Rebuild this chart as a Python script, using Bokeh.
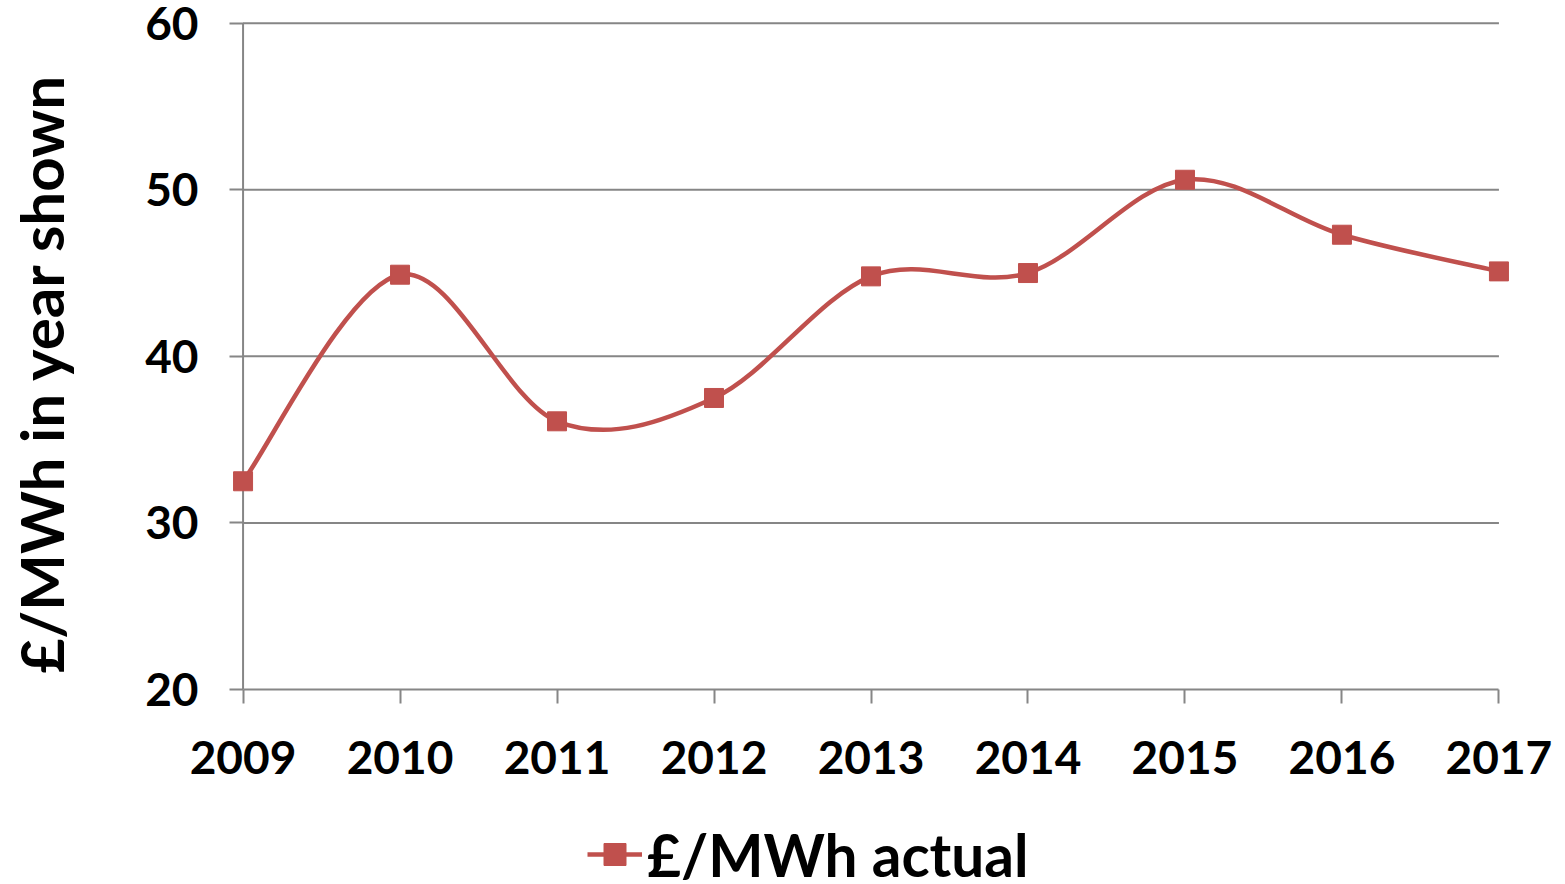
import numpy as np
from bokeh.plotting import figure
from bokeh.layouts import column, row
from bokeh.models import Range1d, FixedTicker, Legend, LegendItem, Label, ColumnDataSource
from bokeh.embed import file_html
from bokeh.resources import INLINE

# ---- data ----
years = [2009, 2010, 2011, 2012, 2013, 2014, 2015, 2016, 2017]
values = [32.5, 44.9, 36.1, 37.5, 44.8, 45.0, 50.6, 47.3, 45.1]
y_ticks = [20, 30, 40, 50, 60]
series_name = "£/MWh actual"
y_title = "£/MWh in year shown"

RED = "#C0504D"
GREY = "#868686"
FONT = "Lato"

# ---- smoothed curve (Excel-like Catmull-Rom Bezier control points) ----
xs = np.array(years, dtype=float)
ys = np.array(values, dtype=float)
n = len(xs)
seg = {k: [] for k in ["x0", "y0", "x1", "y1", "cx0", "cy0", "cx1", "cy1"]}
for i in range(n - 1):
    i0 = max(i - 1, 0)
    i3 = min(i + 2, n - 1)
    seg["x0"].append(xs[i]); seg["y0"].append(ys[i])
    seg["x1"].append(xs[i + 1]); seg["y1"].append(ys[i + 1])
    seg["cx0"].append(xs[i] + (xs[i + 1] - xs[i0]) / 6)
    seg["cy0"].append(ys[i] + (ys[i + 1] - ys[i0]) / 6)
    seg["cx1"].append(xs[i + 1] - (xs[i3] - xs[i]) / 6)
    seg["cy1"].append(ys[i + 1] - (ys[i3] - ys[i]) / 6)
curve_src = ColumnDataSource(seg)
pts_src = ColumnDataSource(dict(x=years, y=values))

W = 1565
WT = 85          # strip holding the vertical axis title
H1 = 809
H2 = 75
LEFT = 230       # global x of plot frame left
TOP = 21
BOTTOM = H1 - 689
RIGHT = 54
dx = 0.08
y_rng = (y_ticks[0], y_ticks[-1] + 0.1)

p = figure(width=W - WT, height=H1,
           x_range=Range1d(years[0] - dx, years[-1] + dx),
           y_range=Range1d(*y_rng),
           output_backend="svg", toolbar_location=None,
           min_border_left=LEFT - WT, min_border_right=RIGHT,
           min_border_top=TOP, min_border_bottom=BOTTOM)
p.outline_line_color = None
p.xgrid.visible = False
p.ygrid.visible = False
p.background_fill_color = "white"

# gridlines and vertical axis line at the first category
grid_vals = y_ticks[1:]
p.segment(x0=[years[0]] * len(grid_vals), x1=[years[-1]] * len(grid_vals),
          y0=grid_vals, y1=grid_vals, line_color=GREY, line_width=2)
p.segment(x0=[years[0]], x1=[years[0]], y0=[y_ticks[0]], y1=[y_ticks[-1]],
          line_color=GREY, line_width=2)

curve = p.bezier(x0="x0", y0="y0", x1="x1", y1="y1", cx0="cx0", cy0="cy0",
                 cx1="cx1", cy1="cy1", source=curve_src, line_color=RED, line_width=4.5)
pts = p.scatter("x", "y", source=pts_src, marker="square", size=19,
                fill_color=RED, line_color=RED, line_width=1)

for ax in (p.xaxis[0], p.yaxis[0]):
    ax.axis_line_color = GREY
    ax.axis_line_width = 2
    ax.major_tick_line_color = GREY
    ax.major_tick_line_width = 2
    ax.minor_tick_line_color = None
    ax.major_label_text_font = FONT
    ax.major_label_text_font_style = "bold"
    ax.major_label_text_font_size = "46px"
    ax.major_label_text_color = "black"

p.xaxis.ticker = FixedTicker(ticks=years)
p.xaxis.bounds = (years[0], years[-1])
p.xaxis.major_tick_out = 14
p.xaxis.major_tick_in = 0
p.xaxis.major_label_standoff = 37

p.yaxis.ticker = FixedTicker(ticks=y_ticks)
p.yaxis.axis_line_color = None
p.yaxis.major_tick_out = 1
p.yaxis.major_tick_in = 13
p.yaxis.major_label_standoff = 31

# ---- vertical axis title strip (same vertical frame as the chart) ----
pt = figure(width=WT, height=H1, x_range=Range1d(0, WT), y_range=Range1d(*y_rng),
            output_backend="svg", toolbar_location=None,
            min_border_left=0, min_border_right=0,
            min_border_top=TOP, min_border_bottom=BOTTOM)
pt.axis.visible = False
pt.grid.visible = False
pt.outline_line_color = None
pt.add_layout(Label(x=WT / 2 - 2, y=(y_ticks[0] + y_ticks[-1]) / 2, y_offset=-17,
                    text=y_title, angle=np.pi / 2, text_align="center",
                    text_baseline="middle", text_font=FONT, text_font_style="bold",
                    text_font_size="60px", text_color="black"))

# ---- legend strip below the chart ----
p2 = figure(width=W, height=H2, x_range=Range1d(0, W - LEFT - RIGHT), y_range=Range1d(0, H2),
            output_backend="svg", toolbar_location=None,
            min_border_left=LEFT, min_border_right=RIGHT,
            min_border_top=0, min_border_bottom=0)
p2.axis.visible = False
p2.grid.visible = False
p2.outline_line_color = None
# legend swatch renderers carry the series (they lie outside this strip's view)
leg_line = p2.line(years, values, line_color=RED, line_width=4.5)
leg_pts = p2.scatter(years, values, marker="square", size=19,
                     fill_color=RED, line_color=RED, line_width=1)
legend = Legend(items=[LegendItem(label=series_name, renderers=[leg_line, leg_pts])],
                location=(587 - LEFT, -5), orientation="horizontal",
                border_line_color=None, background_fill_alpha=0,
                padding=0, margin=0, spacing=0,
                glyph_width=55, glyph_height=70, label_height=70, label_standoff=5,
                label_text_font=FONT, label_text_font_style="bold",
                label_text_font_size="58.5px", label_text_color="black")
p2.add_layout(legend)

layout = column(row(pt, p, spacing=0), p2, spacing=0)
open("out.html", "w").write(file_html(layout, INLINE))
